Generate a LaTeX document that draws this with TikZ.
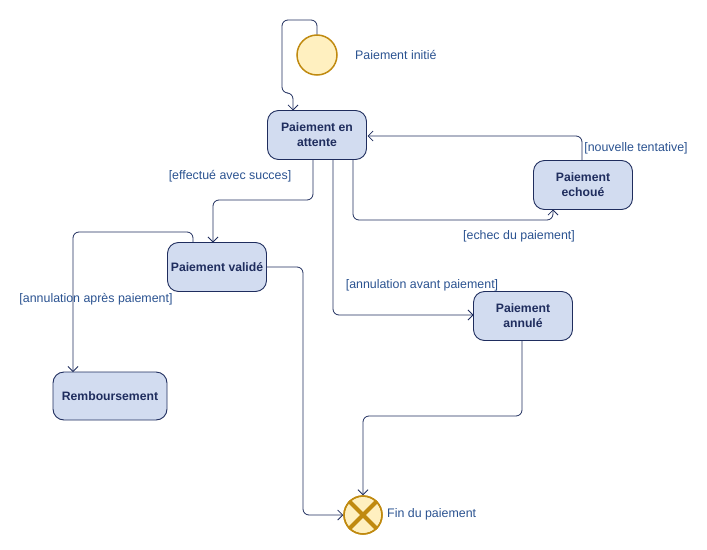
\documentclass[tikz,border=0pt]{standalone}
\usepackage{fontspec}
\setmainfont{Liberation Sans}
\usetikzlibrary{arrows.meta}
\definecolor{boxfill}{HTML}{D2DCF0}
\definecolor{navy}{HTML}{1F2D5E}
\definecolor{lbl}{HTML}{2A5290}
\definecolor{gold}{HTML}{C08A10}
\definecolor{cream}{HTML}{FFF0C0}
\tikzset{
  statebox/.style={draw=navy, line width=0.9pt, fill=boxfill, rounded corners=11pt,
    minimum width=99pt, minimum height=49pt, inner sep=2pt, align=center,
    font=\fontsize{12.2}{15}\selectfont\bfseries, text=navy},
  guard/.style={font=\fontsize{12.4}{14}\selectfont, text=lbl, inner sep=0pt},
  conn/.style={draw=navy, line width=0.8pt, rounded corners=6pt,
    -{Straight Barb[length=5pt,width=10pt]}},
}
\begin{document}
\begin{tikzpicture}[x=1pt,y=-1pt]
\useasboundingbox (0,0) rectangle (707,549);
% states
\node[draw=gold, line width=1.5pt, fill=cream, circle, minimum size=40pt, inner sep=0pt] (start) at (317,55) {};
\node[guard, anchor=west] (startlbl) at (355,55) {Paiement initié};
\node[statebox] (att) at (317,135) {Paiement en\\attente};
\node[statebox] (val) at (217,267) {Paiement validé};
\node[statebox] (ech) at (583,185) {Paiement\\echoué};
\node[statebox] (ann) at (523,316) {Paiement\\annulé};
\node[statebox, minimum width=114pt, minimum height=48pt] (remb) at (110,396) {Remboursement};
% end state
\node[draw=gold, line width=1.5pt, fill=cream, circle, minimum size=38pt, inner sep=0pt] (fin) at (363,515) {};
\draw[gold, line width=4pt] (fin.45) -- (fin.225) (fin.135) -- (fin.315);
\draw[gold, line width=1.5pt] (fin) circle (19pt);
\node[guard, anchor=west] (finlbl) at (387,514) {Fin du paiement};
% connectors
\draw[conn] (start.north) -- (317,20) -- (282,20) -- (282,93) -- (293,93) -- (293,110.5);
\draw[conn] (313,160) -- (313,200) -- (213,200) -- (213,242.5);
\node[guard] (g1) at (230,176) {[effectué avec succes]};
\draw[conn] (353,160) -- (353,220) -- (553,220) -- (553,209.5);
\node[guard] (g2) at (519,236) {[echec du paiement]};
\draw[conn] (582,160) -- (582,136) -- (367.5,136);
\node[guard] (g3) at (636,148) {[nouvelle tentative]};
\draw[conn] (333,160) -- (333,315) -- (473.5,315);
\node[guard] (g4) at (422,285) {[annulation avant paiement]};
\draw[conn] (193,242) -- (193,232) -- (73,232) -- (73,372);
\node[guard] (g5) at (96,299) {[annulation après paiement]};
\draw[conn] (267,267) -- (303,267) -- (303,515) -- (fin.west);
\draw[conn] (522,341) -- (522,416) -- (363,416) -- (fin.north);
\end{tikzpicture}
\end{document}
